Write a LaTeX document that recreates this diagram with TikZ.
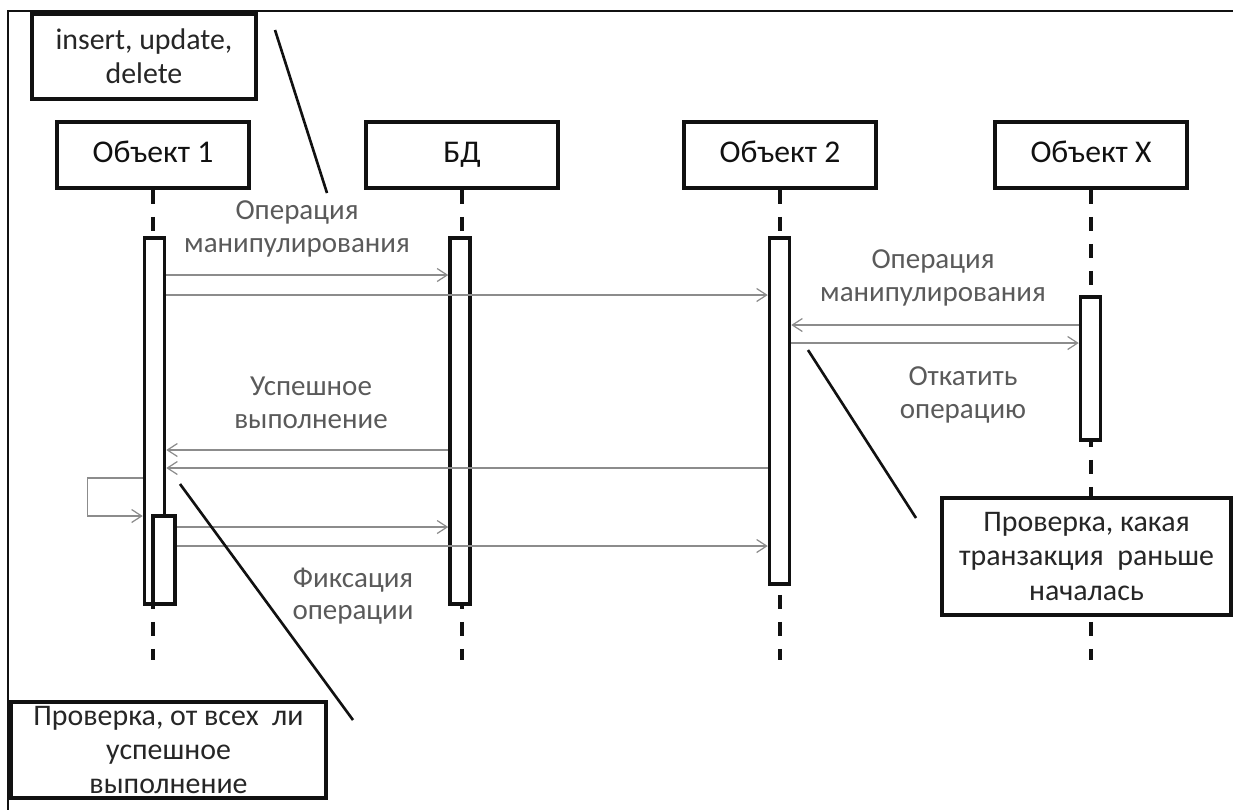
\documentclass[tikz,border=0pt]{standalone}
\usepackage{fontspec}
\setmainfont{Carlito}
\usetikzlibrary{arrows.meta,positioning,calc}
\definecolor{sqLine}{HTML}{111111}
\definecolor{sqMsg}{HTML}{8C8C8C}
\definecolor{sqLabel}{HTML}{5A5A5A}
\definecolor{sqNote}{HTML}{262626}
\tikzset{
  objbox/.style={
    draw=sqLine, line width=2pt, fill=white, minimum width=38.4mm,
    minimum height=13.2mm, font=\fontsize{18}{21}\selectfont, text=sqLine,
    text height=12pt, text depth=3pt
  },
  actbar/.style={draw=sqLine, line width=2pt, fill=white, minimum width=4mm, inner sep=0pt},
  lifeline/.style={draw=sqLine, line width=2pt, dash pattern=on 2.8mm off 2.6mm},
  msg/.style={draw=sqMsg, line width=0.7pt, -{Straight Barb[length=2mm,width=2.6mm]}},
  msglabel/.style={text=sqLabel, font=\fontsize{16.5}{18.5}\selectfont, align=center},
  notebox/.style={
    draw=sqLine, line width=2pt, fill=white, align=center, text=sqNote,
    font=\fontsize{17}{19.5}\selectfont, inner sep=0pt
  },
  noteline/.style={draw=sqLine, line width=1.5pt},
  frameline/.style={draw=sqLine, line width=1.1pt}
}

\begin{document}
\begin{tikzpicture}[x=0.2mm, y=-0.2mm]
  \useasboundingbox (0,0) rectangle (1233,810);
  \draw[frameline] (1233,11) -- (8,11) -- (8,810);

  % objects and lifelines
  \node[objbox] (obj1) at (153,155) {Объект 1};
  \node[objbox] (bd)   at (462,155) {БД};
  \node[objbox] (obj2) at (780,155) {Объект 2};
  \node[objbox] (objx) at (1091,155) {Объект X};
  \foreach \o in {obj1,bd,obj2,objx}
    \draw[lifeline] (\o.south) -- (\o.south |- 0,660);

  % activations
  \node[actbar, minimum height=73.2mm] (act1) at (154.5,421) {};
  \node[actbar, minimum height=73.2mm] (actbd) at (460,421) {};
  \node[actbar, minimum height=69.2mm] (act2) at (779.5,411) {};
  \node[actbar, minimum height=28.6mm] (actx) at (1090.5,368.5) {};
  \node[actbar, minimum width=4.4mm, minimum height=17.6mm] (act1b) at (164,560) {};

  % messages
  \draw[msg] (act1.east |- 0,275) -- (actbd.west |- 0,275);
  \draw[msg] (act1.east |- 0,295) -- (act2.west |- 0,295);
  \draw[msg] (actx.west |- 0,325) -- (act2.east |- 0,325);
  \draw[msg] (act2.east |- 0,343) -- (actx.west |- 0,343);
  \draw[msg] (actbd.west |- 0,450) -- (act1.east |- 0,450);
  \draw[msg] (act2.west |- 0,468) -- (act1.east |- 0,468);
  \draw[msg] (act1.west |- 0,478) -- ++(-55,0) |- (act1.west |- 0,516);
  \draw[msg] (act1b.east |- 0,527) -- (actbd.west |- 0,527);
  \draw[msg] (act1b.east |- 0,546) -- (act2.west |- 0,546);

  \node[msglabel] (lblmanip1) at (297,229) {Операция\\манипулирования};
  \node[msglabel] (lblmanip2) at (933,278) {Операция\\манипулирования};
  \node[msglabel] (lblrollback) at (963,395) {Откатить\\операцию};
  \node[msglabel] (lblsuccess) at (311,403) {Успешное\\выполнение};
  \node[msglabel] (lblcommit) at (353,596) {Фиксация\\операции};

  % notes
  \node[notebox, minimum width=44.8mm, minimum height=17mm] (noteops) at (144,56.5)
    {insert, update,\\delete};
  \node[notebox, minimum width=57.8mm, minimum height=23.4mm] (noteorder) at (1086.5,556.5)
    {Проверка, какая\\транзакция\ \ раньше\\началась};
  \node[notebox, minimum width=63mm, minimum height=19.2mm] (notecheck) at (168.5,750)
    {Проверка, от всех\ \ ли\\успешное\\выполнение};

  \coordinate (opsA) at (275,30);
  \coordinate (opsB) at (327,193);
  \coordinate (orderA) at (808,350);
  \coordinate (orderB) at (916,518);
  \coordinate (checkA) at (180,484);
  \coordinate (checkB) at (353,720);
  \draw[noteline] (opsA) -- (opsB);
  \draw[noteline] (orderA) -- (orderB);
  \draw[noteline] (checkA) -- (checkB);
\end{tikzpicture}
\end{document}
